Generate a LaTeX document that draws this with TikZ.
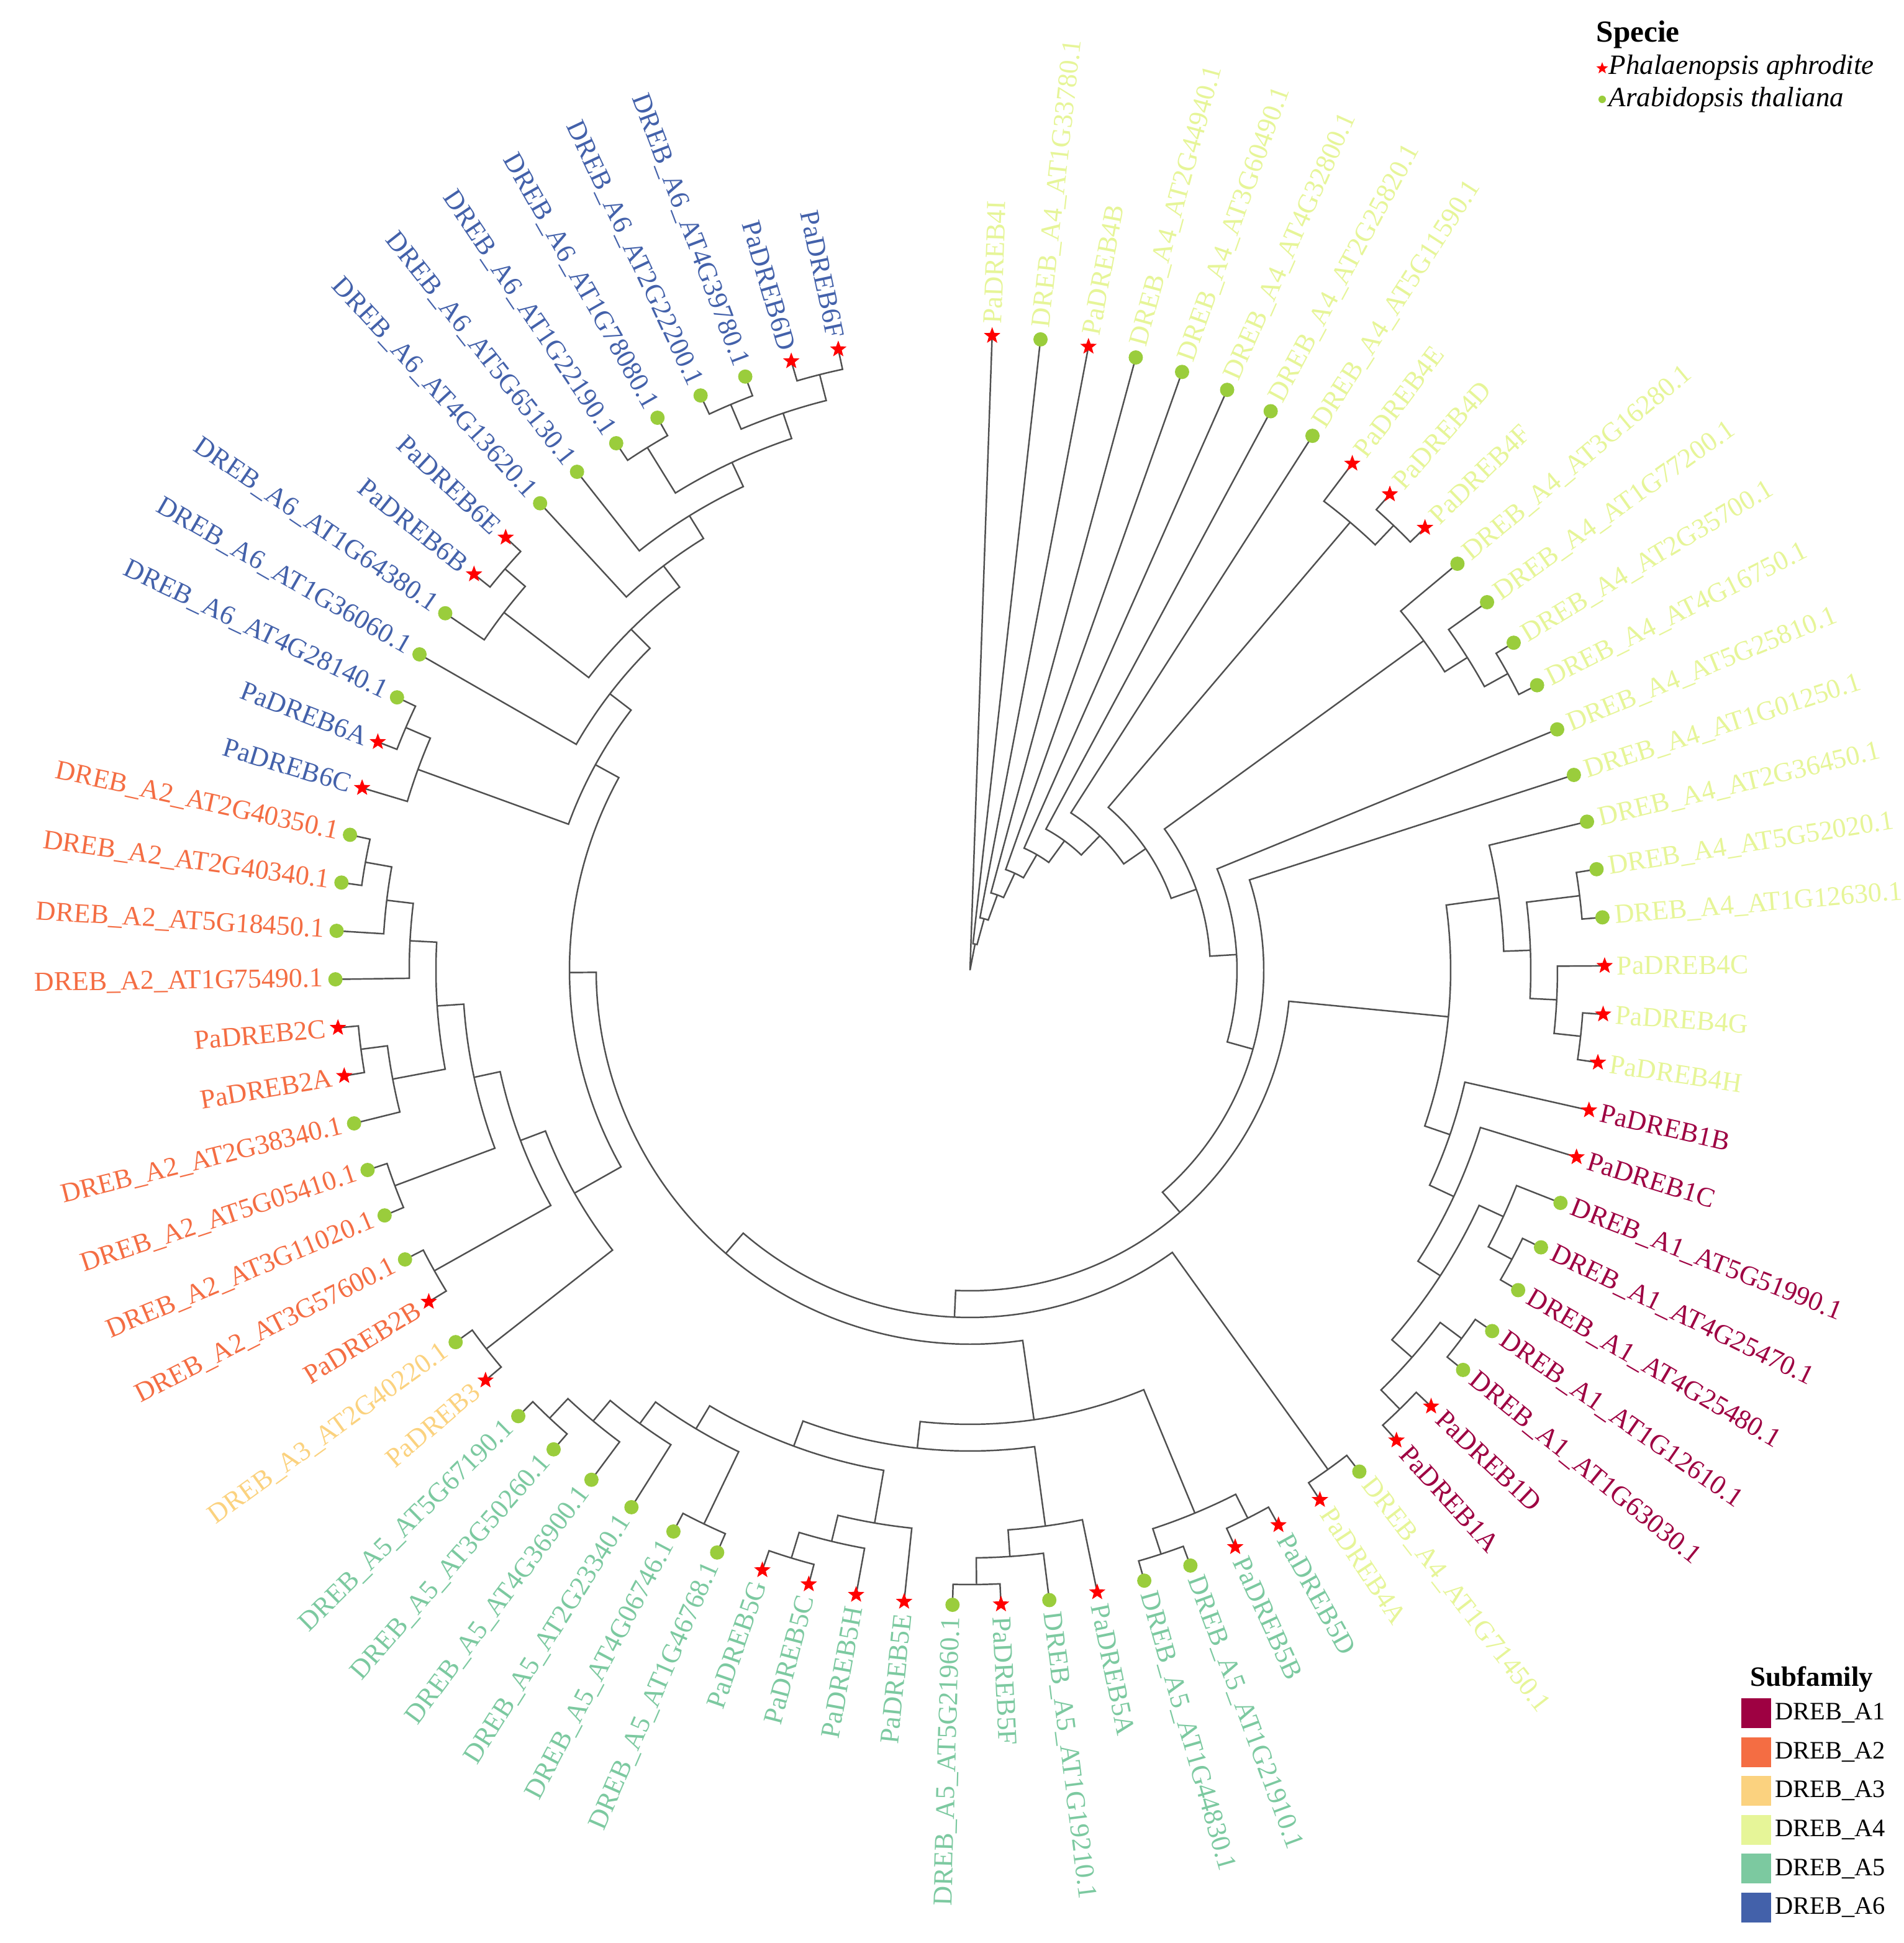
\documentclass[tikz,border=0pt]{standalone}
\usepackage{fontspec}
\setmainfont{Liberation Serif}
\usetikzlibrary{shapes.geometric}
\pgfdeclarelayer{front}
\pgfsetlayers{main,front}

\definecolor{cA1}{HTML}{9E0142}
\definecolor{cA2}{HTML}{F46D43}
\definecolor{cA3}{HTML}{FBD27F}
\definecolor{cA4}{HTML}{E6F598}
\definecolor{cA5}{HTML}{7CC9A0}
\definecolor{cA6}{HTML}{4361AA}
\definecolor{branchgrey}{HTML}{505050}
\definecolor{dotgreen}{HTML}{9ACD3C}

\tikzset{
  branch/.style={draw=branchgrey, line width=0.7pt},
  leaflabel/.style={font=\fontsize{12.5}{14}\selectfont, inner sep=0pt},
  pastar/.style={star, star points=5, star point ratio=2.4, fill=red, draw=none, minimum size=0.28cm, inner sep=0pt},
  atdot/.style={circle, fill=dotgreen, draw=none, minimum size=0.23cm, inner sep=0pt},
  keybox/.style={minimum width=0.48cm, minimum height=0.48cm, inner sep=0pt, draw=none},
  keytext/.style={font=\fontsize{11.5}{13}\selectfont, anchor=west, inner sep=0pt},
}

\newcommand{\unitr}{0.43}
\newcommand{\tipr}{10.22}

% leaf: id, position, colour, marker, label
\newcommand{\leafnode}[5]{%
  \pgfmathsetmacro{\lAng}{88-#2*4.38}%
  \expandafter\xdef\csname ang#1\endcsname{\lAng}%
  \expandafter\xdef\csname hgt#1\endcsname{0}%
  \coordinate (#1) at (\lAng:\tipr);
  \pgfmathsetmacro{\lRad}{\tipr+0.19}%
  \pgfmathtruncatemacro{\lSide}{cos(\lAng)>0 ? 1 : 0}%
  \ifnum\lSide=1
    \node[leaflabel, text=#3, anchor=west, rotate=\lAng] (lab#1) at (\lAng:\lRad) {#5};
  \else
    \pgfmathsetmacro{\lRot}{\lAng+180}%
    \node[leaflabel, text=#3, anchor=east, rotate=\lRot] (lab#1) at (\lAng:\lRad) {#5};
  \fi
  \begin{pgfonlayer}{front}
    \node[#4] (mk#1) at (#1) {};
  \end{pgfonlayer}
}

% clade: id, child, child
\newcommand{\clade}[3]{%
  \edef\aAng{\csname ang#2\endcsname}%
  \edef\bAng{\csname ang#3\endcsname}%
  \edef\aHgt{\csname hgt#2\endcsname}%
  \edef\bHgt{\csname hgt#3\endcsname}%
  \pgfmathsetmacro{\cAng}{(\aAng+\bAng)/2}%
  \pgfmathtruncatemacro{\cHgt}{max(\aHgt,\bHgt)+1}%
  \pgfmathsetmacro{\cRad}{(24-\cHgt)*\unitr}%
  \expandafter\xdef\csname ang#1\endcsname{\cAng}%
  \expandafter\xdef\csname hgt#1\endcsname{\cHgt}%
  \coordinate (#1) at (\cAng:\cRad);
  \coordinate (#1a) at (\aAng:\cRad);
  \coordinate (#1b) at (\bAng:\cRad);
  \draw[branch] (#2) -- (#1a) arc[start angle=\aAng, end angle=\bAng, radius=\cRad] -- (#3);
}

\begin{document}
\begin{tikzpicture}
\useasboundingbox (-15.62,-15.66) rectangle (15.04,15.62);

% tips, clockwise from the top
\leafnode{p4I}{0}{cA4}{pastar}{PaDREB4I}
\leafnode{at1g33780}{1}{cA4}{atdot}{DREB\_A4\_AT1G33780.1}
\leafnode{p4B}{2}{cA4}{pastar}{PaDREB4B}
\leafnode{at2g44940}{3}{cA4}{atdot}{DREB\_A4\_AT2G44940.1}
\leafnode{at3g60490}{4}{cA4}{atdot}{DREB\_A4\_AT3G60490.1}
\leafnode{at4g32800}{5}{cA4}{atdot}{DREB\_A4\_AT4G32800.1}
\leafnode{at2g25820}{6}{cA4}{atdot}{DREB\_A4\_AT2G25820.1}
\leafnode{at5g11590}{7}{cA4}{atdot}{DREB\_A4\_AT5G11590.1}
\leafnode{p4E}{8}{cA4}{pastar}{PaDREB4E}
\leafnode{p4D}{9}{cA4}{pastar}{PaDREB4D}
\leafnode{p4F}{10}{cA4}{pastar}{PaDREB4F}
\leafnode{at3g16280}{11}{cA4}{atdot}{DREB\_A4\_AT3G16280.1}
\leafnode{at1g77200}{12}{cA4}{atdot}{DREB\_A4\_AT1G77200.1}
\leafnode{at2g35700}{13}{cA4}{atdot}{DREB\_A4\_AT2G35700.1}
\leafnode{at4g16750}{14}{cA4}{atdot}{DREB\_A4\_AT4G16750.1}
\leafnode{at5g25810}{15}{cA4}{atdot}{DREB\_A4\_AT5G25810.1}
\leafnode{at1g01250}{16}{cA4}{atdot}{DREB\_A4\_AT1G01250.1}
\leafnode{at2g36450}{17}{cA4}{atdot}{DREB\_A4\_AT2G36450.1}
\leafnode{at5g52020}{18}{cA4}{atdot}{DREB\_A4\_AT5G52020.1}
\leafnode{at1g12630}{19}{cA4}{atdot}{DREB\_A4\_AT1G12630.1}
\leafnode{p4C}{20}{cA4}{pastar}{PaDREB4C}
\leafnode{p4G}{21}{cA4}{pastar}{PaDREB4G}
\leafnode{p4H}{22}{cA4}{pastar}{PaDREB4H}
\leafnode{p1B}{23}{cA1}{pastar}{PaDREB1B}
\leafnode{p1C}{24}{cA1}{pastar}{PaDREB1C}
\leafnode{at5g51990}{25}{cA1}{atdot}{DREB\_A1\_AT5G51990.1}
\leafnode{at4g25470}{26}{cA1}{atdot}{DREB\_A1\_AT4G25470.1}
\leafnode{at4g25480}{27}{cA1}{atdot}{DREB\_A1\_AT4G25480.1}
\leafnode{at1g12610}{28}{cA1}{atdot}{DREB\_A1\_AT1G12610.1}
\leafnode{at1g63030}{29}{cA1}{atdot}{DREB\_A1\_AT1G63030.1}
\leafnode{p1D}{30}{cA1}{pastar}{PaDREB1D}
\leafnode{p1A}{31}{cA1}{pastar}{PaDREB1A}
\leafnode{at1g71450}{32}{cA4}{atdot}{DREB\_A4\_AT1G71450.1}
\leafnode{p4A}{33}{cA4}{pastar}{PaDREB4A}
\leafnode{p5D}{34}{cA5}{pastar}{PaDREB5D}
\leafnode{p5B}{35}{cA5}{pastar}{PaDREB5B}
\leafnode{at1g21910}{36}{cA5}{atdot}{DREB\_A5\_AT1G21910.1}
\leafnode{at1g44830}{37}{cA5}{atdot}{DREB\_A5\_AT1G44830.1}
\leafnode{p5A}{38}{cA5}{pastar}{PaDREB5A}
\leafnode{at1g19210}{39}{cA5}{atdot}{DREB\_A5\_AT1G19210.1}
\leafnode{p5F}{40}{cA5}{pastar}{PaDREB5F}
\leafnode{at5g21960}{41}{cA5}{atdot}{DREB\_A5\_AT5G21960.1}
\leafnode{p5E}{42}{cA5}{pastar}{PaDREB5E}
\leafnode{p5H}{43}{cA5}{pastar}{PaDREB5H}
\leafnode{p5C}{44}{cA5}{pastar}{PaDREB5C}
\leafnode{p5G}{45}{cA5}{pastar}{PaDREB5G}
\leafnode{at1g46768}{46}{cA5}{atdot}{DREB\_A5\_AT1G46768.1}
\leafnode{at4g06746}{47}{cA5}{atdot}{DREB\_A5\_AT4G06746.1}
\leafnode{at2g23340}{48}{cA5}{atdot}{DREB\_A5\_AT2G23340.1}
\leafnode{at4g36900}{49}{cA5}{atdot}{DREB\_A5\_AT4G36900.1}
\leafnode{at3g50260}{50}{cA5}{atdot}{DREB\_A5\_AT3G50260.1}
\leafnode{at5g67190}{51}{cA5}{atdot}{DREB\_A5\_AT5G67190.1}
\leafnode{p3}{52}{cA3}{pastar}{PaDREB3}
\leafnode{at2g40220}{53}{cA3}{atdot}{DREB\_A3\_AT2G40220.1}
\leafnode{p2B}{54}{cA2}{pastar}{PaDREB2B}
\leafnode{at3g57600}{55}{cA2}{atdot}{DREB\_A2\_AT3G57600.1}
\leafnode{at3g11020}{56}{cA2}{atdot}{DREB\_A2\_AT3G11020.1}
\leafnode{at5g05410}{57}{cA2}{atdot}{DREB\_A2\_AT5G05410.1}
\leafnode{at2g38340}{58}{cA2}{atdot}{DREB\_A2\_AT2G38340.1}
\leafnode{p2A}{59}{cA2}{pastar}{PaDREB2A}
\leafnode{p2C}{60}{cA2}{pastar}{PaDREB2C}
\leafnode{at1g75490}{61}{cA2}{atdot}{DREB\_A2\_AT1G75490.1}
\leafnode{at5g18450}{62}{cA2}{atdot}{DREB\_A2\_AT5G18450.1}
\leafnode{at2g40340}{63}{cA2}{atdot}{DREB\_A2\_AT2G40340.1}
\leafnode{at2g40350}{64}{cA2}{atdot}{DREB\_A2\_AT2G40350.1}
\leafnode{p6C}{65}{cA6}{pastar}{PaDREB6C}
\leafnode{p6A}{66}{cA6}{pastar}{PaDREB6A}
\leafnode{at4g28140}{67}{cA6}{atdot}{DREB\_A6\_AT4G28140.1}
\leafnode{at1g36060}{68}{cA6}{atdot}{DREB\_A6\_AT1G36060.1}
\leafnode{at1g64380}{69}{cA6}{atdot}{DREB\_A6\_AT1G64380.1}
\leafnode{p6B}{70}{cA6}{pastar}{PaDREB6B}
\leafnode{p6E}{71}{cA6}{pastar}{PaDREB6E}
\leafnode{at4g13620}{72}{cA6}{atdot}{DREB\_A6\_AT4G13620.1}
\leafnode{at5g65130}{73}{cA6}{atdot}{DREB\_A6\_AT5G65130.1}
\leafnode{at1g22190}{74}{cA6}{atdot}{DREB\_A6\_AT1G22190.1}
\leafnode{at1g78080}{75}{cA6}{atdot}{DREB\_A6\_AT1G78080.1}
\leafnode{at2g22200}{76}{cA6}{atdot}{DREB\_A6\_AT2G22200.1}
\leafnode{at4g39780}{77}{cA6}{atdot}{DREB\_A6\_AT4G39780.1}
\leafnode{p6D}{78}{cA6}{pastar}{PaDREB6D}
\leafnode{p6F}{79}{cA6}{pastar}{PaDREB6F}

% A4 clades
\clade{y1}{p4D}{p4F}
\clade{x1}{p4E}{y1}
\clade{z1}{at2g35700}{at4g16750}
\clade{z2}{at1g77200}{z1}
\clade{z3}{at3g16280}{z2}
\clade{h1}{p4G}{p4H}
\clade{h2}{p4C}{h1}
\clade{h3}{at5g52020}{at1g12630}
\clade{h4}{h3}{h2}
\clade{h5}{at2g36450}{h4}
% A1
\clade{k1}{at4g25470}{at4g25480}
\clade{k2}{at5g51990}{k1}
\clade{k3}{at1g12610}{at1g63030}
\clade{k4}{p1D}{p1A}
\clade{k6}{k3}{k4}
\clade{k5}{k2}{k6}
\clade{k7}{p1C}{k5}
\clade{k8}{p1B}{k7}
\clade{sg}{h5}{k8}
\clade{a4b}{at1g71450}{p4A}
% A5
\clade{z5a}{p5D}{p5B}
\clade{z5b}{at1g21910}{at1g44830}
\clade{z5c}{z5b}{z5a}
\clade{y5a}{p5F}{at5g21960}
\clade{y5b}{at1g19210}{y5a}
\clade{y5c}{p5A}{y5b}
\clade{w5a}{p5C}{p5G}
\clade{w5b}{p5H}{w5a}
\clade{w5c}{p5E}{w5b}
\clade{v5}{at1g46768}{at4g06746}
\clade{u5a}{at3g50260}{at5g67190}
\clade{u5b}{at4g36900}{u5a}
\clade{u5c}{at2g23340}{u5b}
\clade{u5d}{v5}{u5c}
\clade{u5e}{w5c}{u5d}
\clade{u5f}{y5c}{u5e}
\clade{u5g}{z5c}{u5f}
% A3 and A2
\clade{t3}{p3}{at2g40220}
\clade{s2}{p2B}{at3g57600}
\clade{r2}{at3g11020}{at5g05410}
\clade{q2a}{p2A}{p2C}
\clade{q2b}{at2g38340}{q2a}
\clade{p2a}{at2g40340}{at2g40350}
\clade{p2b}{at5g18450}{p2a}
\clade{p2c}{at1g75490}{p2b}
\clade{p2d}{q2b}{p2c}
\clade{p2e}{r2}{p2d}
\clade{p2f}{s2}{p2e}
\clade{p2g}{t3}{p2f}
% A6
\clade{m6a}{p6A}{at4g28140}
\clade{m6b}{p6C}{m6a}
\clade{h6a}{p6B}{p6E}
\clade{h6b}{at1g64380}{h6a}
\clade{d6}{at1g22190}{at1g78080}
\clade{a6}{at2g22200}{at4g39780}
\clade{b6}{p6D}{p6F}
\clade{ab6}{a6}{b6}
\clade{e6}{d6}{ab6}
\clade{f6}{at5g65130}{e6}
\clade{g6}{at4g13620}{f6}
\clade{j6}{h6b}{g6}
\clade{k6x}{at1g36060}{j6}
\clade{n6}{m6b}{k6x}
% backbone
\clade{om}{p2g}{n6}
\clade{omg}{u5g}{om}
\clade{psi}{a4b}{omg}
\clade{phi}{sg}{psi}
\clade{lam}{at1g01250}{phi}
\clade{mu}{at5g25810}{lam}
\clade{gam}{z3}{mu}
\clade{del}{x1}{gam}
\clade{n8}{at5g11590}{del}
\clade{n7}{at2g25820}{n8}
\clade{n6c}{at4g32800}{n7}
\clade{n5}{at3g60490}{n6c}
\clade{n4}{at2g44940}{n5}
\clade{n3}{p4B}{n4}
\clade{n2}{at1g33780}{n3}
\coordinate (root) at (0,0);
\draw[branch] (p4I) -- (root) -- (n2);

% species key
\node[font=\bfseries\fontsize{14}{16}\selectfont, anchor=base west, inner sep=0pt] (spKey) at (10.08,14.94) {Specie};
\node[pastar, minimum size=0.2cm] (spStar) at (10.18,14.52) {};
\node[font=\itshape\fontsize{12.8}{15}\selectfont, anchor=base west, inner sep=0pt] (spPa) at (10.28,14.42) {Phalaenopsis aphrodite};
\node[atdot, minimum size=0.12cm] (spDot) at (10.18,14.02) {};
\node[font=\itshape\fontsize{12.8}{15}\selectfont, anchor=base west, inner sep=0pt] (spAt) at (10.28,13.90) {Arabidopsis thaliana};

% subfamily key
\node[font=\bfseries\fontsize{12.8}{15}\selectfont, anchor=base west, inner sep=0pt] (sfKey) at (12.56,-11.52) {Subfamily};
\foreach \g [count=\k from 0] in {A1,A2,A3,A4,A5,A6} {
  \node[keybox, fill=c\g] (box\g) at (12.66,{-11.96-0.626*\k}) {};
  \node[keytext] (key\g) at (12.96,{-11.96-0.626*\k}) {DREB\_\g};
}
\end{tikzpicture}
\end{document}
